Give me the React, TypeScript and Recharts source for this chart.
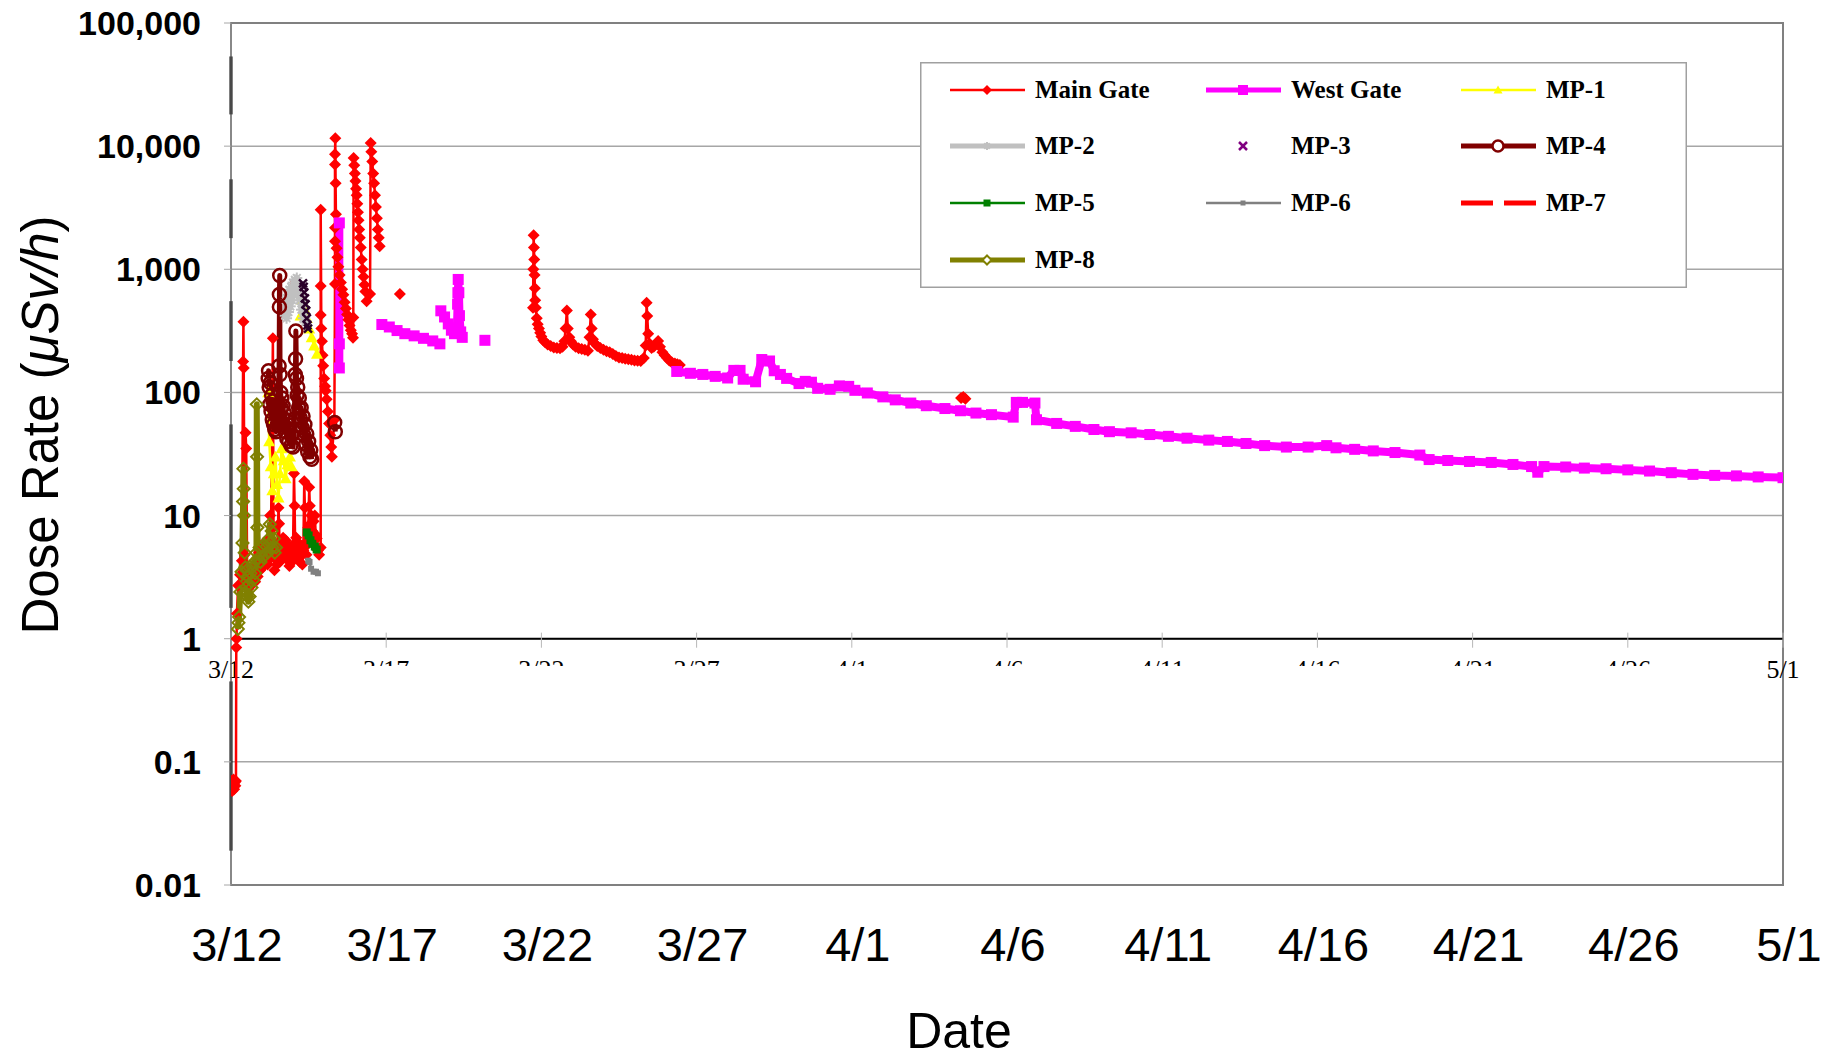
import React from 'react';
import { ComposedChart, Line, XAxis, YAxis, CartesianGrid, ReferenceLine, ReferenceArea, Label } from 'recharts';

// x = days after 3/12 00:00, y = dose rate in µSv/h
type P = [number, number | null];

const dateTicks = [0, 5, 10, 15, 20, 25, 30, 35, 40, 45, 50];
const dateLabels = ['3/12', '3/17', '3/22', '3/27', '4/1', '4/6', '4/11', '4/16', '4/21', '4/26', '5/1'];
const doseTicks = [0.01, 0.1, 1, 10, 100, 1000, 10000, 100000];
const doseLabels = ['0.01', '0.1', '1', '10', '100', '1,000', '10,000', '100,000'];

const mainGate: P[] = [
  [0.0, 0.062], [0.02, 0.07], [0.04, 0.058], [0.06, 0.066], [0.08, 0.072], [0.1, 0.06], [0.12, 0.068], [0.14, 0.064], [0.16, 0.07],
  [0.17, 0.85], [0.18, 1.0], [0.19, 1.6], [0.23, 2.7], [0.29, 3.3], [0.35, 4.3],
  [0.39, 178], [0.4, 375], [0.41, 158], [0.44, 4.8],
  [0.47, 47], [0.49, 35], [0.52, 3.8], [0.55, 2.9], [0.58, 3.4], [0.62, 2.7], [0.66, 3.2], [0.7, 2.8],
  [0.74, 3.5], [0.78, 2.9], [0.82, 4.0], [0.86, 3.2], [0.9, 5.0], [0.94, 3.6], [0.98, 5.5], [1.02, 3.8],
  [1.06, 6.0], [1.1, 4.2], [1.14, 6.2], [1.18, 4.0], [1.22, 5.4],
  [1.26, 10], [1.28, 4.5], [1.35, 276], [1.37, 8], [1.4, 3.6], [1.44, 5.2], [1.48, 4.0],
  [1.53, 11.6], [1.55, 8.6], [1.57, 4.2], [1.6, 6.2], [1.64, 4.5], [1.68, 6.6], [1.72, 4.8], [1.76, 6.3],
  [1.8, 4.4], [1.84, 5.8], [1.88, 3.9], [1.92, 5.4], [1.96, 4.2], [2.0, 5.8],
  [2.03, 22], [2.05, 12], [2.07, 5.0], [2.1, 6.6], [2.14, 4.6], [2.18, 6.0], [2.22, 4.2], [2.26, 5.6], [2.3, 4.0], [2.33, 5.2],
  [2.36, 19], [2.38, 11.6], [2.4, 6.0], [2.43, 4.8], [2.46, 5.8], [2.49, 8],
  [2.52, 17], [2.54, 12], [2.56, 8.6], [2.59, 10], [2.62, 7.5], [2.66, 9], [2.7, 10], [2.73, 7], [2.76, 6.5], [2.8, 5.2], [2.84, 4.8],
  [2.89, 5.5], [2.89, 425], [2.89, 730], [2.89, 3050],
  [2.91, 330], [2.93, 260], [2.95, 200], [2.97, 165], [3.0, 130], [3.03, 112], [3.05, 103], [3.08, 88],
  [3.12, 70], [3.16, 56], [3.2, 45], [3.23, 36], [3.25, 30],
  [3.33, 60], [3.35, 760], [3.35, 1690], [3.35, 2170], [3.35, 7100], [3.35, 8600], [3.36, 11600],
  [3.37, 5000], [3.38, 2800], [3.4, 1480], [3.43, 1250], [3.46, 1050], [3.5, 900], [3.54, 780], [3.58, 690],
  [3.62, 620], [3.66, 540], [3.7, 480], [3.74, 430], [3.78, 390], [3.82, 350], [3.86, 320], [3.9, 300], [3.93, 278],
  [3.94, 405], [3.95, 8000], [3.97, 7000], [3.99, 6000], [4.01, 5200], [4.03, 4500], [4.05, 4000], [4.07, 3400],
  [4.09, 2900], [4.11, 2500], [4.13, 2100], [4.15, 1800], [4.18, 1500], [4.21, 1200], [4.24, 1000], [4.27, 870],
  [4.3, 750], [4.33, 660], [4.37, 550],
  [4.48, 630], [4.5, 10600], [4.52, 9000], [4.55, 7500], [4.58, 6000], [4.61, 5000], [4.64, 4000], [4.67, 3200],
  [4.7, 2600], [4.73, 2100], [4.76, 1800], [4.79, 1540],
  [4.85, null],
  [5.44, 630],
  [5.5, null],
  [9.73, 486], [9.74, 1000], [9.75, 1890], [9.76, 1500], [9.77, 1200], [9.78, 900], [9.79, 700], [9.8, 560],
  [9.82, 486], [9.85, 400], [9.88, 357], [9.92, 330], [9.96, 305], [10.0, 285], [10.06, 265], [10.12, 255],
  [10.2, 245], [10.3, 238], [10.4, 232], [10.5, 230], [10.6, 228], [10.68, 235], [10.74, 260], [10.78, 330],
  [10.82, 463], [10.85, 330], [10.9, 280], [10.95, 260], [11.02, 245], [11.1, 235], [11.2, 228], [11.3, 225],
  [11.4, 222], [11.5, 218], [11.55, 280], [11.59, 430], [11.62, 330], [11.66, 270], [11.72, 250], [11.8, 238],
  [11.9, 230], [12.0, 222], [12.1, 216], [12.2, 212], [12.3, 205], [12.4, 198], [12.5, 192], [12.6, 190],
  [12.7, 188], [12.8, 186], [12.9, 184], [13.0, 182], [13.1, 181], [13.2, 180], [13.3, 190], [13.36, 240],
  [13.39, 534], [13.41, 417], [13.44, 300], [13.48, 250], [13.55, 230], [13.62, 235], [13.7, 250], [13.76, 261],
  [13.82, 235], [13.9, 212], [13.97, 200], [14.04, 191], [14.12, 182], [14.2, 176], [14.3, 172], [14.38, 169], [14.46, 167],
  [15.0, null],
  [23.52, 90], [23.59, 92], [23.66, 89],
];

const westGate: P[] = [
  [3.49, 158], [3.49, 248], [3.49, 2380],
  [3.6, null],
  [4.86, 356], [5.1, 340], [5.35, 318], [5.6, 300], [5.9, 288], [6.2, 275], [6.5, 262], [6.73, 248],
  [6.74, null],
  [6.76, 460], [6.88, 410], [7.0, 360], [7.1, 320], [7.2, 300], [7.28, 335], [7.3, 521], [7.31, 645],
  [7.32, 827], [7.34, 645], [7.36, 420], [7.4, 310], [7.45, 280],
  [7.6, null],
  [8.18, 265],
  [8.3, null],
  [14.36, 148], [14.8, 143], [15.2, 140], [15.6, 135], [16.0, 131], [16.2, 151], [16.4, 151],
  [16.5, 128], [16.9, 122], [17.1, 185], [17.35, 180], [17.5, 150], [17.7, 140], [17.9, 130],
  [18.3, 118], [18.5, 123], [18.7, 121], [18.9, 108], [19.3, 106], [19.6, 113], [19.9, 112],
  [20.1, 104], [20.5, 99], [21.0, 92], [21.4, 87], [21.9, 82], [22.4, 78], [23.0, 74], [23.5, 71],
  [24.0, 68], [24.5, 66], [25.2, 63], [25.3, 83], [25.5, 83], [25.9, 82], [25.95, 60], [26.6, 56],
  [27.2, 53], [27.8, 50], [28.3, 48], [29.0, 47], [29.6, 45.5], [30.2, 44], [30.8, 42.5], [31.5, 41],
  [32.1, 40], [32.7, 38.5], [33.3, 37], [34.0, 36], [34.7, 36], [35.3, 37], [35.6, 35.5], [36.2, 34.5],
  [36.8, 33.5], [37.5, 32.5], [38.3, 31], [38.6, 28.5], [39.2, 28], [39.9, 27.5], [40.6, 27],
  [41.3, 26], [41.9, 25], [42.1, 22.5], [42.3, 25], [43.0, 24.8], [43.6, 24.3], [44.3, 24],
  [45.0, 23.5], [45.7, 23], [46.4, 22.3], [47.1, 21.6], [47.8, 21.2], [48.5, 21], [49.2, 20.6], [50.0, 20.3],
];

const mp1: P[] = [
  [1.2, 100], [1.23, 40], [1.28, 25], [1.33, 16], [1.38, 22], [1.43, 30], [1.48, 18], [1.53, 14],
  [1.58, 22], [1.63, 35], [1.7, 28], [1.76, 20], [1.82, 26], [1.9, 30], [1.95, 25],
  [2.0, null],
  [2.24, 420], [2.3, 560], [2.36, 480], [2.44, 400], [2.52, 330], [2.6, 280], [2.68, 240], [2.77, 205],
];

const mp2: P[] = [
  [1.75, 420], [1.77, 560], [1.79, 400], [1.82, 620], [1.85, 450], [1.88, 680], [1.91, 500], [1.94, 720],
  [1.97, 560], [2.0, 780], [2.03, 620], [2.06, 820], [2.09, 700], [2.12, 850], [2.15, 660], [2.18, 740],
  [2.21, 560], [2.24, 620], [2.27, 470], [2.3, 520], [2.33, 400], [2.36, 440], [2.39, 370], [2.42, 380],
];

const mp3: P[] = [
  [2.32, 770], [2.34, 720], [2.36, 650], [2.38, 580], [2.4, 520], [2.42, 460], [2.44, 400], [2.46, 350], [2.48, 330],
];

const mp4: P[] = [
  [1.2, 130], [1.21, 150], [1.23, 110], [1.25, 80], [1.27, 120], [1.29, 70], [1.31, 95], [1.33, 60],
  [1.35, 85], [1.37, 55], [1.39, 75], [1.41, 50], [1.43, 70], [1.45, 48], [1.47, 65], [1.5, 55], [1.53, 80],
  [1.55, 164], [1.56, 495], [1.56, 625], [1.57, 890], [1.58, 140], [1.6, 100], [1.62, 75], [1.64, 90],
  [1.66, 62], [1.68, 78], [1.7, 55], [1.72, 68], [1.75, 48], [1.78, 60], [1.8, 42], [1.83, 55], [1.86, 40],
  [1.9, 50], [1.93, 37], [1.97, 45], [2.0, 36], [2.03, 48],
  [2.07, 140], [2.08, 187], [2.09, 315], [2.11, 130], [2.13, 95], [2.15, 110], [2.18, 75], [2.2, 90],
  [2.23, 62], [2.26, 75], [2.29, 52], [2.32, 64], [2.35, 45], [2.38, 55], [2.41, 38], [2.44, 46],
  [2.47, 33], [2.5, 40], [2.54, 30], [2.57, 34], [2.6, 28.7],
  [2.7, null],
  [3.34, 57], [3.36, 48],
];

const mp5: P[] = [[2.44, 7.3], [2.5, 6.9], [2.56, 6.3], [2.62, 5.9], [2.7, 5.6], [2.76, 5.3]];
const mp6: P[] = [[2.49, 4.3], [2.53, 4.2], [2.58, 3.7], [2.66, 3.5], [2.74, 3.5], [2.8, 3.4]];
const mp7: P[] = [[1.93, 700], [1.96, 760], [1.99, 820]];

const mp8: P[] = [
  [0.22, 1.2], [0.24, 1.35], [0.26, 1.5],
  [0.3, 2.4], [0.34, 3.5], [0.37, 6.0], [0.39, 13], [0.4, 24], [0.41, 16.5], [0.42, 10], [0.44, 5.0],
  [0.46, 3.8], [0.48, 2.6], [0.5, 3.6], [0.52, 2.2], [0.54, 3.2], [0.56, 2.0], [0.58, 2.8], [0.6, 2.2],
  [0.63, 3.4], [0.66, 2.6], [0.69, 3.8], [0.72, 3.0], [0.75, 4.2], [0.78, 3.4], [0.81, 4.3],
  [0.82, 5.0], [0.83, 80], [0.84, 30], [0.85, 8.0], [0.88, 4.5], [0.92, 5.5], [0.95, 4.2], [0.99, 5.6],
  [1.03, 4.6], [1.07, 5.8], [1.11, 4.8], [1.15, 5.6], [1.19, 5.0], [1.22, 6.5], [1.25, 8.5], [1.28, 6.0],
  [1.31, 7.5], [1.34, 5.5], [1.38, 6.5], [1.41, 5.0], [1.45, 5.5],
];

// dark segments along the left axis (artifact in the original)
const leftAxisMarks: [number, number][] = [[53500, 18100], [5380, 1790], [551, 180], [55, 1.78], [0.45, 0.019]];

const SANS = '"Liberation Sans", Arial, sans-serif';
const SERIF = '"Liberation Serif", "Times New Roman", serif';

type Marker = 'diamond' | 'odiamond' | 'square' | 'triangle' | 'asterisk' | 'cross' | 'circle' | 'none';

function marker(kind: Marker, x: number, y: number, color: string, size: number, key?: any, hollowFill = 'none') {
  const r = size / 2;
  switch (kind) {
    case 'diamond':
      return <path key={key} d={`M${x},${y - r}L${x + r},${y}L${x},${y + r}L${x - r},${y}Z`} fill={color} />;
    case 'odiamond':
      return <path key={key} d={`M${x},${y - r}L${x + r},${y}L${x},${y + r}L${x - r},${y}Z`} fill={hollowFill} stroke={color} strokeWidth={2} />;
    case 'square':
      return <rect key={key} x={x - r} y={y - r} width={size} height={size} fill={color} />;
    case 'triangle':
      return <path key={key} d={`M${x},${y - r}L${x + r},${y + r * 0.8}L${x - r},${y + r * 0.8}Z`} fill={color} />;
    case 'circle':
      return <circle key={key} cx={x} cy={y} r={r} fill={hollowFill} stroke={color} strokeWidth={2.5} />;
    case 'asterisk':
      return (
        <g key={key} stroke={color} strokeWidth={2}>
          <line x1={x - r} y1={y} x2={x + r} y2={y} />
          <line x1={x - r * 0.7} y1={y - r * 0.7} x2={x + r * 0.7} y2={y + r * 0.7} />
          <line x1={x - r * 0.7} y1={y + r * 0.7} x2={x + r * 0.7} y2={y - r * 0.7} />
          <line x1={x} y1={y - r} x2={x} y2={y + r} />
        </g>
      );
    case 'cross':
      return (
        <g key={key} stroke={color} strokeWidth={2.5}>
          <line x1={x - r} y1={y - r} x2={x + r} y2={y + r} />
          <line x1={x - r} y1={y + r} x2={x + r} y2={y - r} />
        </g>
      );
    default:
      return <g key={key} />;
  }
}

const series = [
  { name: 'Main Gate', data: mainGate, color: '#FF0000', width: 2.5, lw: 2.5, mk: 'diamond', size: 12, lsize: 10 },
  { name: 'West Gate', data: westGate, color: '#FF00FF', width: 8, lw: 5, mk: 'square', size: 11, lsize: 10 },
  { name: 'MP-1', data: mp1, color: '#FFFF00', width: 2.5, lw: 2.5, mk: 'triangle', size: 12, lsize: 9 },
  { name: 'MP-2', data: mp2, color: '#C0C0C0', width: 6, lw: 5, mk: 'asterisk', size: 11, lsize: 8 },
  { name: 'MP-3', data: mp3, color: '#800080', dotColor: '#2a002a', width: 0, lw: 0, mk: 'cross', size: 8, lsize: 8 },
  { name: 'MP-4', data: mp4, color: '#800000', width: 5, lw: 5, mk: 'circle', size: 13, lsize: 11 },
  { name: 'MP-5', data: mp5, color: '#008000', width: 3, lw: 2.5, mk: 'square', size: 8, lsize: 7 },
  { name: 'MP-6', data: mp6, color: '#808080', width: 2.5, lw: 2.5, mk: 'square', size: 6, lsize: 5 },
  { name: 'MP-7', data: mp7, color: '#FF0000', width: 4, lw: 5, dash: '10 6', ldash: '32 11', mk: 'none', size: 0, lsize: 0 },
  { name: 'MP-8', data: mp8, color: '#808000', width: 6, lw: 5, mk: 'odiamond', size: 12, lsize: 9 },
];

const toPts = (a: P[]) => a.map(([t, v]) => ({ t, v }));

const legendCols = [30, 286, 541];
const legendRows = [28, 84, 141, 198];

function XTick(props: any) {
  const i = dateTicks.indexOf(props.payload.value);
  return (
    <text x={props.x + 6} y={961} textAnchor="middle" fontSize={47} fontFamily={SANS} fill="#000">
      {dateLabels[i]}
    </text>
  );
}

function YTick(props: any) {
  const i = doseTicks.findIndex((d) => Math.abs(d - props.payload.value) / d < 1e-6);
  return (
    <text x={props.x - 21} y={props.y + 12} textAnchor="end" fontSize={34} fontWeight="bold" fontFamily={SANS} fill="#000">
      {doseLabels[i]}
    </text>
  );
}

function midLabel(props: any, i: number) {
  const vb = props.viewBox || {};
  const x = (vb.x || 0) + (vb.width || 0) / 2;
  const edge = i === 0 || i === dateTicks.length - 1;
  return (
    <g>
      <defs>
        <clipPath id={`mid-clip-${i}`}>
          <rect x={x - 40} y={640} width={80} height={edge ? 60 : 26} />
        </clipPath>
      </defs>
      <text x={x} y={678} textAnchor="middle" fontSize={26} fontFamily={SERIF} fill="#000" clipPath={`url(#mid-clip-${i})`}>
        {dateLabels[i]}
      </text>
    </g>
  );
}

export default function App() {
  return (
    <div style={{ position: 'absolute', left: 0, top: 0, width: 1833, height: 1060, background: '#fff' }}>
      <ComposedChart width={1833} height={1060} margin={{ top: 23, right: 50, bottom: 55, left: 31 }}>
        <CartesianGrid vertical={false} stroke="#A6A6A6" strokeWidth={1.5} />
        <XAxis
          type="number"
          dataKey="t"
          domain={[0, 50]}
          ticks={dateTicks}
          interval={0}
          allowDataOverflow
          axisLine={false}
          tickLine={false}
          height={120}
          tick={(p: any) => <XTick {...p} />}
        >
          <Label
            content={() => (
              <text x={959} y={1048} textAnchor="middle" fontSize={50} fontFamily={SANS} fill="#000">
                Date
              </text>
            )}
          />
        </XAxis>
        <YAxis
          type="number"
          scale="log"
          domain={[0.01, 100000]}
          ticks={doseTicks}
          interval={0}
          allowDataOverflow
          width={200}
          axisLine={{ stroke: '#909090', strokeWidth: 1 }}
          tickLine={{ stroke: '#A6A6A6' }}
          tickSize={7}
          tick={(p: any) => <YTick {...p} />}
        >
          <Label
            content={() => (
              <text transform="rotate(-90)" x={-425} y={58} textAnchor="middle" fontSize={51} fontFamily={SANS} fill="#000">
                Dose Rate (<tspan fontStyle="italic">μSv/h</tspan>)
              </text>
            )}
          />
        </YAxis>
        <ReferenceArea x1={0} x2={50} y1={0.01} y2={100000} fill="none" stroke="#808080" strokeWidth={2} />
        {leftAxisMarks.map(([a, b], i) => (
          <ReferenceLine key={`lam${i}`} segment={[{ x: 0, y: a }, { x: 0, y: b }]} stroke="#000" strokeWidth={3} />
        ))}
        <ReferenceLine y={1} stroke="#000" strokeWidth={2} />
        {dateTicks.map((t, i) => (
          <ReferenceLine
            key={`mt${i}`}
            segment={[{ x: t, y: 0.845 }, { x: t, y: 1.12 }]}
            stroke="#B8B8B8"
            strokeWidth={1}
            label={(p: any) => midLabel(p, i)}
          />
        ))}
        {series.map((s: any) => (
          <Line
            key={s.name}
            name={s.name}
            data={toPts(s.data)}
            dataKey="v"
            type="linear"
            stroke={s.width ? s.color : 'none'}
            strokeWidth={s.width}
            strokeDasharray={s.dash}
            strokeLinejoin="round"
            connectNulls={false}
            isAnimationActive={false}
            activeDot={false}
            dot={(p: any) =>
              p.cx == null || p.cy == null || p.value == null || Number.isNaN(p.cy)
                ? <g key={`d${p.index}`} />
                : marker(s.mk, p.cx, p.cy, s.dotColor || s.color, s.size, `d${p.index}`)
            }
          />
        ))}
      </ComposedChart>
      <svg style={{ position: 'absolute', left: 920, top: 62 }} width={767} height={226}>
        <rect x={0.75} y={0.75} width={765.5} height={224.5} fill="#fff" stroke="#A0A0A0" strokeWidth={1.5} />
        {series.map((s: any, i) => {
          const x0 = legendCols[i % 3];
          const y = legendRows[Math.floor(i / 3)];
          return (
            <g key={s.name}>
              {s.lw > 0 && (
                <line x1={x0} y1={y} x2={x0 + 75} y2={y} stroke={s.color} strokeWidth={s.lw} strokeDasharray={s.ldash} />
              )}
              {marker(s.mk, x0 + 37, y, s.color, s.lsize, undefined, '#fff')}
              <text x={x0 + 85} y={y + 8} fontSize={25} fontWeight="bold" fontFamily={SERIF} fill="#000">
                {s.name}
              </text>
            </g>
          );
        })}
      </svg>
    </div>
  );
}
